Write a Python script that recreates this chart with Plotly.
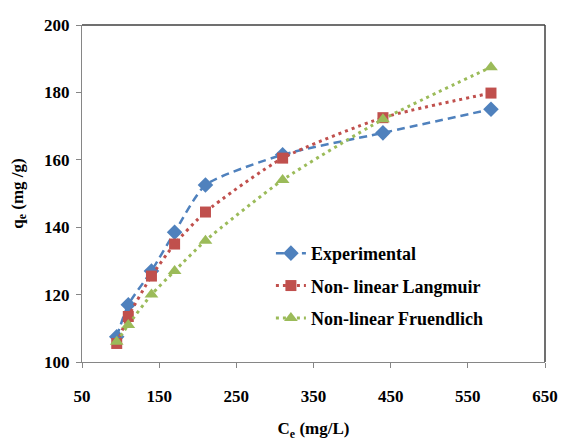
import plotly.graph_objects as go

ce = [95, 110, 140, 170, 210, 310, 440, 580]
experimental = [107.5, 117, 127, 138.5, 152.5, 161.5, 168, 175]
langmuir = [105.5, 113.5, 125.5, 135, 144.5, 160.5, 172.5, 179.8]
freundlich = [106, 111, 120, 127, 136, 154, 172, 187.5]

x_ticks = [50, 150, 250, 350, 450, 550, 650]
y_ticks = [100, 120, 140, 160, 180, 200]

FONT = "Liberation Serif, Times New Roman, serif"
BOLD17 = dict(family=FONT, size=17, color="black", weight="bold")
BOLD18 = dict(family=FONT, size=18, color="black", weight="bold")

fig = go.Figure()
fig.add_trace(go.Scatter(
    x=ce, y=experimental, name="Experimental", mode="lines+markers",
    line=dict(color="#4F81BD", width=2.5, dash="8px,5px", shape="spline", smoothing=0.6),
    marker=dict(symbol="diamond", size=12, color="#4F81BD"),
    legendgroup="a"))
fig.add_trace(go.Scatter(
    x=ce, y=langmuir, name="Non- linear Langmuir", mode="lines+markers",
    line=dict(color="#C0504D", width=3, dash="3px,4px", shape="spline", smoothing=0.6),
    marker=dict(symbol="square", size=11, color="#C0504D"),
    legendgroup="b"))
fig.add_trace(go.Scatter(
    x=ce, y=freundlich, name="Non-linear Fruendlich", mode="lines+markers",
    line=dict(color="#9BBB59", width=3, dash="3px,4px", shape="spline", smoothing=0.6),
    marker=dict(symbol="triangle-up", size=12, color="#9BBB59"),
    legendgroup="c"))

fig.update_layout(
    width=562, height=441,
    margin=dict(l=82, r=17, t=25, b=79, autoexpand=False),
    paper_bgcolor="white", plot_bgcolor="white",
    font=dict(family=FONT, size=16, color="black"),
    showlegend=True,
    legend=dict(x=0.408, y=0.377, xanchor="left", yanchor="top",
                font=BOLD18,
                bgcolor="rgba(0,0,0,0)", tracegroupgap=6),
    xaxis=dict(range=[50, 650], tickvals=x_ticks, ticktext=[str(v) for v in x_ticks],
               automargin=False, ticklabeloverflow="allow",
               showgrid=False, zeroline=False, showline=True, linecolor="#868686", linewidth=1,
               ticks="outside", ticklen=5, tickcolor="#868686",
               ticklabelstandoff=14,
               tickfont=BOLD17,
               title=dict(text="C<sub>e</sub> (mg/L)", font=BOLD17, standoff=23)),
    yaxis=dict(range=[100, 200], tickvals=y_ticks, ticktext=[str(v) for v in y_ticks],
               automargin=False,
               showgrid=False, zeroline=False, showline=True, linecolor="#868686", linewidth=1,
               ticks="outside", ticklen=5, tickcolor="#868686",
               ticklabelstandoff=3,
               tickfont=BOLD17,
               title=dict(text="q<sub>e</sub> (mg /g)", font=BOLD17, standoff=16)),
)

fig.add_shape(type="line", xref="paper", yref="paper", x0=0, x1=1, y0=1, y1=1,
              line=dict(color="#404040", width=1.5))
fig.add_shape(type="line", xref="paper", yref="paper", x0=1, x1=1, y0=0, y1=1,
              line=dict(color="#404040", width=1.5))

fig.write_html("out.html", config={"displayModeBar": False},
               post_script="document.body.style.margin='0';document.body.style.overflow='hidden';")
